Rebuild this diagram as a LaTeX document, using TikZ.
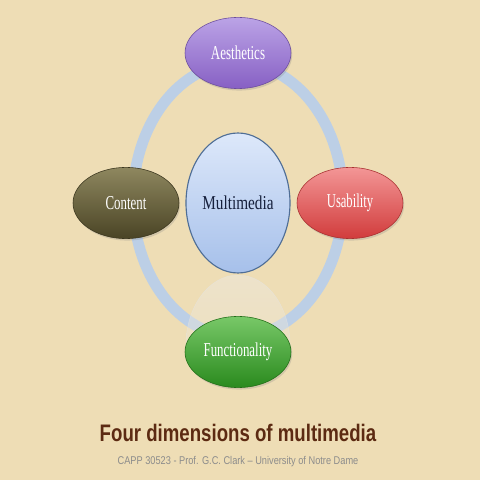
\documentclass[tikz,border=0pt]{standalone}
\usepackage{fontspec}
\usepackage{graphicx}
\newfontfamily\labelfont{Liberation Serif}
\newfontfamily\titlefont{Liberation Sans}
\newcommand\narrowtext[2]{\scalebox{#1}[1]{#2}}
\usetikzlibrary{shapes.geometric,shadows}
\definecolor{paper}{HTML}{EEDDB5}
\definecolor{ring}{HTML}{BCCFE6}
\definecolor{titlebrown}{HTML}{5C2A12}
\definecolor{subgray}{HTML}{8C8C8C}
\definecolor{navy}{HTML}{16203C}
\definecolor{coretop}{HTML}{DDE8FA}
\definecolor{corebot}{HTML}{A6C0EA}
\definecolor{coreline}{HTML}{4F6E96}
\definecolor{aestop}{HTML}{BBA3E6}
\definecolor{aesbot}{HTML}{8760C4}
\definecolor{contop}{HTML}{8E875F}
\definecolor{conbot}{HTML}{4A4425}
\definecolor{usatop}{HTML}{F39696}
\definecolor{usabot}{HTML}{D13C3C}
\definecolor{funtop}{HTML}{78C868}
\definecolor{funbot}{HTML}{2A8A1E}

\begin{document}
\begin{tikzpicture}[
  dimension/.style={ellipse, inner sep=0pt, minimum width=2.65cm, minimum height=1.78cm,
    text=white, font=\labelfont\fontsize{14}{16}\selectfont,
    drop shadow={opacity=0.25, shadow xshift=0.03cm, shadow yshift=-0.05cm}},
  core/.style={ellipse, inner sep=0pt, minimum width=2.6cm, minimum height=3.5cm,
    draw=coreline, line width=0.8pt, top color=coretop, bottom color=corebot,
    text=navy, font=\labelfont\fontsize{14}{16}\selectfont}]
  \fill[paper] (0,0) rectangle (12,12);
  \useasboundingbox (0,0) rectangle (12,12);
  \draw[ring, line width=7.8pt] (5.95,7.0) ellipse (2.625 and 3.425);
  \begin{scope}
   \clip (4.5,3.2) rectangle (7.4,5.12);
   \shade[top color=white!85!gray, bottom color=paper, opacity=0.4]
     (5.95,3.375) ellipse (1.3 and 1.75);
   \draw[white!80!gray, opacity=0.5] (5.95,3.375) ellipse (1.3 and 1.75);
  \end{scope}
  \node[core] (mm) at (5.95,6.925) {\narrowtext{0.775}{Multimedia}};
  \node[dimension, top color=aestop, bottom color=aesbot, draw=aesbot!80!black]
    (aes) at (5.95,10.675) {\narrowtext{0.66}{Aesthetics}};
  \node[dimension, top color=contop, bottom color=conbot, draw=conbot!80!black]
    (con) at (3.15,6.925) {\narrowtext{0.655}{Content}};
  \node[dimension, top color=usatop, bottom color=usabot, draw=usabot!80!black]
    (usa) at (8.75,6.925) {\narrowtext{0.64}{Usability}};
  \node[dimension, top color=funtop, bottom color=funbot, draw=funbot!80!black]
    (fun) at (5.95,3.2) {\narrowtext{0.655}{Functionality}};
  \node[text=titlebrown, font=\titlefont\bfseries\fontsize{17}{20}\selectfont]
    (title) at (5.95,1.18) {\narrowtext{0.78}{Four dimensions of multimedia}};
  \node[text=subgray, font=\titlefont\fontsize{8}{10}\selectfont]
    (credit) at (5.95,0.45) {\narrowtext{0.82}{CAPP 30523 - Prof. G.C. Clark – University of Notre Dame}};
\end{tikzpicture}
\end{document}
